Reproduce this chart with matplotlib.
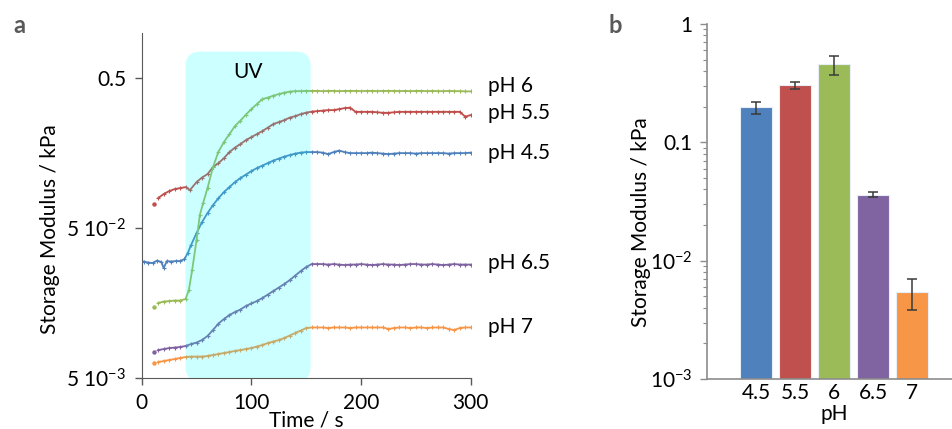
import matplotlib
matplotlib.use('Agg')
import matplotlib.pyplot as plt
from matplotlib.patches import FancyBboxPatch
from matplotlib.ticker import NullLocator

plt.rcParams['font.family'] = ['Lato', 'DejaVu Sans']
plt.rcParams['mathtext.default'] = 'regular'
plt.rcParams['font.size'] = 15

# ---- panel a : storage modulus vs time (kPa) ----
t_ph45 = [2, 6, 10, 14, 18, 20, 23, 27, 31, 35, 39, 42, 45] + list(range(50, 301, 5))
g_ph45 = [0.0299, 0.02944, 0.02922, 0.03036, 0.02967, 0.02706, 0.03013, 0.0299, 0.03013, 0.03013,
          0.03107, 0.03407, 0.03852,
          0.0463, 0.0548, 0.0629, 0.0711, 0.0792, 0.0869, 0.0938, 0.1013, 0.1077, 0.1137,
          0.1199, 0.1256, 0.1305, 0.1356, 0.1409, 0.1453, 0.1498, 0.1533, 0.1569, 0.1593,
          0.1606, 0.1606, 0.1606, 0.1593, 0.1557, 0.1606, 0.1643, 0.1606, 0.1581, 0.1581,
          0.1581, 0.1581, 0.1593, 0.1581, 0.1569, 0.1557, 0.1569, 0.1581, 0.1581, 0.1581,
          0.1569, 0.1581, 0.1581, 0.1581, 0.1581, 0.1581, 0.1569, 0.1581, 0.1581, 0.1581, 0.1593]

t_ph55 = [11, 15, 20, 25, 30, 35, 40, 44] + list(range(50, 301, 5))
g_ph55 = [0.0723, 0.0792, 0.0843, 0.0882, 0.091, 0.0924, 0.0938, 0.0896,
          0.1013, 0.1086, 0.1146, 0.1275, 0.1356, 0.1464, 0.1606, 0.172, 0.1816, 0.193,
          0.2021, 0.2117, 0.2216, 0.2339, 0.2469, 0.2545, 0.2624, 0.2727, 0.279, 0.2877,
          0.2944, 0.299, 0.3013, 0.3036, 0.306, 0.306, 0.3107, 0.3155, 0.318, 0.2981,
          0.2981, 0.2981, 0.2981, 0.2959, 0.2937, 0.2937, 0.2959, 0.2981, 0.2981, 0.2981,
          0.2981, 0.2981, 0.2981, 0.2981, 0.2981, 0.2981, 0.2981, 0.2981, 0.2981, 0.2769, 0.2834]

t_ph6 = [11, 15, 20, 25, 30, 35, 40, 43, 46, 50, 53, 56] + list(range(60, 301, 5))
g_ph6 = [0.01493, 0.01581, 0.01618, 0.0163, 0.01643, 0.01643, 0.01681, 0.0193, 0.02624,
         0.0416, 0.0611, 0.0734,
         0.0924, 0.1275, 0.1618, 0.1872, 0.2117, 0.2393, 0.2604, 0.2855, 0.3107, 0.3355,
         0.3622, 0.3707, 0.3822, 0.3911, 0.4002, 0.4064, 0.4095, 0.4095, 0.4110,
         0.4110, 0.4110, 0.4095, 0.4110, 0.4110, 0.4095, 0.4110, 0.4110, 0.4110, 0.4095,
         0.4110, 0.4110, 0.4095, 0.4110, 0.4110, 0.4110, 0.4095, 0.4110, 0.4095, 0.4110,
         0.4110, 0.4095, 0.4110, 0.4095, 0.4095, 0.4110, 0.4095, 0.4095, 0.4080, 0.4080]

t_ph65 = [11] + list(range(15, 301, 5))
g_ph65 = [0.00751, 0.00768, 0.0078, 0.00792, 0.00798, 0.00805, 0.00817, 0.00843, 0.00862,
          0.00896, 0.00953, 0.01045, 0.01154, 0.01236, 0.01315, 0.01377, 0.0143, 0.0151,
          0.0157, 0.0163, 0.01707, 0.01801, 0.01901, 0.02006, 0.02117, 0.0225, 0.02411,
          0.02584, 0.02748,
          0.02877, 0.02877, 0.02877, 0.02855, 0.02877, 0.02855, 0.02834, 0.02855, 0.02855,
          0.02877, 0.02855, 0.02834, 0.02855, 0.02877, 0.02855, 0.02855, 0.02834, 0.02855,
          0.02877, 0.02877, 0.02855, 0.02855, 0.02877, 0.02855, 0.02834, 0.02855, 0.02877,
          0.02855, 0.02855, 0.02855]

t_ph7 = [11] + list(range(15, 301, 5))
g_ph7 = [0.00625, 0.00639, 0.00649, 0.00659, 0.00669, 0.0068, 0.0069, 0.00695, 0.00695,
         0.00695, 0.00701, 0.00712, 0.00723, 0.00734, 0.00745, 0.00757, 0.00768, 0.0078,
         0.00792, 0.00811, 0.0083, 0.00855, 0.00875, 0.00896, 0.00924, 0.0096, 0.00998,
         0.01036, 0.01077,
         0.01086, 0.01086, 0.01086, 0.01077, 0.01086, 0.01086, 0.01086, 0.01077, 0.01086,
         0.01086, 0.01086, 0.01086, 0.01086, 0.01086, 0.01061, 0.01077, 0.01086, 0.01086,
         0.01077, 0.01086, 0.01086, 0.01077, 0.01086, 0.01086, 0.01086, 0.01061, 0.01045,
         0.01077, 0.01086, 0.01086]

uv_on, uv_off = 40, 154

# ---- panel b : final storage modulus per pH (kPa) ----
ph_bar = ['4.5', '5.5', '6', '6.5', '7']
modulus = [0.197, 0.304, 0.455, 0.0362, 0.0054]
modulus_err = [0.023, 0.020, 0.085, 0.0017, 0.0016]

colors = {'pH 4.5': '#4F81BD', 'pH 5.5': '#C0504D', 'pH 6': '#9BBB59',
          'pH 6.5': '#8064A2', 'pH 7': '#F79646'}
curves = [('pH 4.5', t_ph45, g_ph45, False, 0),
          ('pH 5.5', t_ph55, g_ph55, True, 1.5),
          ('pH 6', t_ph6, g_ph6, True, 3.6),
          ('pH 6.5', t_ph65, g_ph65, True, 1.0),
          ('pH 7', t_ph7, g_ph7, True, 0)]

W, H = 952, 429
fig = plt.figure(figsize=(W / 100, H / 100), dpi=100)
ax1 = fig.add_axes([141.7 / W, 1 - 378 / H, 329 / W, 345 / H])
ax2 = fig.add_axes([706.7 / W, 1 - 379 / H, 254.6 / W, 355 / H])

# panel a
for name, t, g, lone_first, dy in curves:
    c = colors[name]
    if lone_first:
        ax1.plot(t[:1], g[:1], 'o', color=c, ms=2.2, zorder=3)
        ax1.plot(t[1:], g[1:], color=c, lw=1.3, marker='+', ms=3, mew=0.8, zorder=3)
    else:
        ax1.plot(t, g, color=c, lw=1.3, marker='+', ms=3, mew=0.8, zorder=3)
    ax1.annotate(name, (t[-1], g[-1]), xytext=(12.5, dy), textcoords='offset points',
                 va='center', ha='left', fontsize=15, annotation_clip=False)

ax1.set_yscale('log')
ax1.set_xlim(0, 300)
ax1.set_ylim(0.005, 1.0)
ax1.set_xticks([0, 100, 200, 300])
ax1.set_yticks([0.005, 0.05, 0.5])
ax1.set_yticklabels(['5 10$^{-3}$', '5 10$^{-2}$', '0.5'])
ax1.yaxis.set_minor_locator(NullLocator())

box = FancyBboxPatch((uv_on / 300, -0.01), (uv_off - uv_on) / 300, 0.956,
                     boxstyle='round,pad=0,rounding_size=0.045',
                     mutation_aspect=329 / 345, transform=ax1.transAxes,
                     facecolor='#00ffff', alpha=0.2, edgecolor='none', zorder=4)
ax1.add_patch(box)
ax1.text((uv_on + uv_off) / 2, 0.888, 'UV', transform=ax1.get_xaxis_transform(),
         ha='center', va='center', fontsize=15, zorder=5)

for s in ['top', 'right']:
    ax1.spines[s].set_visible(False)
for s in ['left', 'bottom']:
    ax1.spines[s].set_color('#595959')
ax1.tick_params(direction='out', length=5, width=1, color='#595959', pad=6, labelsize=15)
ax1.set_xlabel('Time / s', fontsize=15, labelpad=-2)
ax1.set_ylabel('Storage Modulus / kPa', fontsize=15)
ax1.yaxis.set_label_coords(-0.248, 0.432)

# panel b
x = range(len(ph_bar))
ax2.set_yscale('log')
ax2.bar(x, modulus, width=0.8, color=[colors['pH ' + p] for p in ph_bar],
        edgecolor='#e8eef8', linewidth=0.8, zorder=2)
ax2.errorbar(x, modulus, yerr=modulus_err, fmt='none', ecolor='#3a3a3a',
             elinewidth=1.1, capsize=3.5, capthick=1.1, zorder=3)
ax2.set_xlim(-1.264, 5.264)
ax2.set_ylim(1e-3, 1)
ax2.set_xticks(list(x))
ax2.set_xticklabels(ph_bar)
ax2.set_yticks([1e-3, 1e-2, 0.1, 1])
ax2.set_yticklabels(['10$^{-3}$', '10$^{-2}$', '0.1', '1'])
for s in ['top', 'right']:
    ax2.spines[s].set_visible(False)
for s in ['left', 'bottom']:
    ax2.spines[s].set_color('#8c8c8c')
    ax2.spines[s].set_linewidth(1.2)
ax2.tick_params(axis='x', length=0, pad=3, labelsize=15)
ax2.tick_params(axis='y', which='major', direction='out', length=5, width=1,
                color='#8c8c8c', pad=5, labelsize=15)
ax2.tick_params(axis='y', which='minor', direction='out', length=3, width=0.8,
                color='#8c8c8c')
ax2.set_xlabel('pH', fontsize=15, labelpad=0.5)
ax2.set_ylabel('Storage Modulus / kPa', fontsize=15)
ax2.yaxis.set_label_coords(-0.218, 0.442)

fig.text(13 / W, 1 - 33 / H, 'a', fontsize=17, fontweight='bold', color='#595959')
fig.text(608 / W, 1 - 33 / H, 'b', fontsize=17, fontweight='bold', color='#595959')

fig.savefig('out.png', dpi=100)
